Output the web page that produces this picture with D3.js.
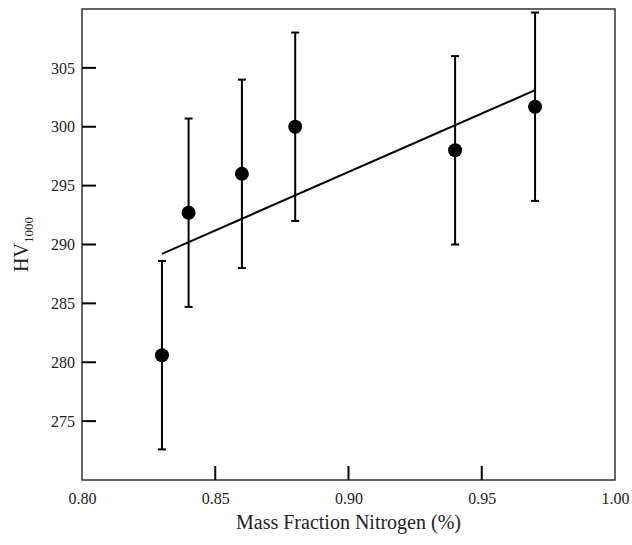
<!DOCTYPE html>
<html>
<head>
<meta charset="utf-8">
<script src="https://cdn.jsdelivr.net/npm/d3@7"></script>
<style>
  body { margin: 0; background: #fff; }
  svg { display: block; }
  svg text { font-family: "Liberation Serif", "Times New Roman", Times, "DejaVu Serif", serif; }
</style>
</head>
<body>
<svg id="chart" width="632" height="545"></svg>
<script>
// data
const nitrogen = [0.83, 0.84, 0.86, 0.88, 0.94, 0.97];
const hardness = [280.6, 292.7, 296.0, 300.0, 298.0, 301.7];
const errors = [8, 8, 8, 8, 8, 8];
const xTicks = [0.80, 0.85, 0.90, 0.95, 1.00];
const yTicks = [275, 280, 285, 290, 295, 300, 305];

const margin = { left: 82, top: 9, right: 17, bottom: 65 };
const W = 632, H = 545;

const svg = d3.select("#chart");

const x = d3.scaleLinear().domain([0.80, 1.00]).range([margin.left, W - margin.right]);
const y = d3.scaleLinear().domain([270, 310]).range([H - margin.bottom, margin.top]);

// frame
svg.append("rect")
    .attr("x", x(0.80)).attr("y", y(310))
    .attr("width", x(1.00) - x(0.80)).attr("height", y(270) - y(310))
    .attr("fill", "none").attr("stroke", "#333").attr("stroke-width", 1.5);

// x axis (ticks inward)
const xAxis = svg.append("g")
    .attr("transform", `translate(0,${y(270)})`)
    .call(d3.axisBottom(x).tickValues(xTicks).tickSize(0).tickPadding(13).tickFormat(d3.format(".2f")));
xAxis.attr("font-family", null);
xAxis.select(".domain").remove();
xAxis.selectAll("text").attr("font-size", 16).attr("fill", "#222");
svg.append("g").selectAll("line")
    .data(xTicks.slice(1, -1))
    .join("line")
    .attr("x1", d => x(d)).attr("x2", d => x(d))
    .attr("y1", y(270)).attr("y2", y(270) - 14)
    .attr("stroke", "#000").attr("stroke-width", 2);

// y axis
const yAxis = svg.append("g")
    .attr("transform", `translate(${x(0.80)},0)`)
    .call(d3.axisLeft(y).tickValues(yTicks).tickSize(0).tickPadding(7));
yAxis.attr("font-family", null);
yAxis.select(".domain").remove();
yAxis.selectAll("text").attr("font-size", 16).attr("fill", "#222");
svg.append("g").selectAll("line")
    .data(yTicks)
    .join("line")
    .attr("x1", x(0.80)).attr("x2", x(0.80) + 14)
    .attr("y1", d => y(d)).attr("y2", d => y(d))
    .attr("stroke", "#000").attr("stroke-width", 2);

// axis titles
svg.append("text")
    .attr("x", (x(0.80) + x(1.00)) / 2).attr("y", 529)
    .attr("text-anchor", "middle").attr("font-size", 20).attr("fill", "#222")
    .text("Mass Fraction Nitrogen (%)");

const yl = svg.append("text")
    .attr("transform", `translate(28,${(y(270) + y(310)) / 2}) rotate(-90)`)
    .attr("text-anchor", "middle").attr("font-size", 20).attr("fill", "#222");
yl.append("tspan").text("HV");
yl.append("tspan").attr("font-size", 13).attr("dy", 5).text("1000");

// linear fit
const mx = d3.mean(nitrogen), my = d3.mean(hardness);
const slope = d3.sum(nitrogen, (d, i) => (d - mx) * (hardness[i] - my)) /
              d3.sum(nitrogen, d => (d - mx) * (d - mx));
const fitX = d3.extent(nitrogen);
svg.append("line")
    .attr("x1", x(fitX[0])).attr("y1", y(my + slope * (fitX[0] - mx)))
    .attr("x2", x(fitX[1])).attr("y2", y(my + slope * (fitX[1] - mx)))
    .attr("stroke", "#000").attr("stroke-width", 2);

const pts = nitrogen.map((d, i) => ({ x: d, y: hardness[i], e: errors[i] }));

// error bars
const eb = svg.append("g").selectAll("g").data(pts).join("g");
eb.append("line")
    .attr("x1", d => x(d.x)).attr("x2", d => x(d.x))
    .attr("y1", d => y(d.y - d.e)).attr("y2", d => y(d.y + d.e))
    .attr("stroke", "#000").attr("stroke-width", 2);
eb.append("line")
    .attr("x1", d => x(d.x) - 4).attr("x2", d => x(d.x) + 4)
    .attr("y1", d => y(d.y + d.e)).attr("y2", d => y(d.y + d.e))
    .attr("stroke", "#000").attr("stroke-width", 2);
eb.append("line")
    .attr("x1", d => x(d.x) - 4).attr("x2", d => x(d.x) + 4)
    .attr("y1", d => y(d.y - d.e)).attr("y2", d => y(d.y - d.e))
    .attr("stroke", "#000").attr("stroke-width", 2);

// points
svg.append("g").selectAll("circle")
    .data(pts)
    .join("circle")
    .attr("cx", d => x(d.x)).attr("cy", d => y(d.y))
    .attr("r", 7).attr("fill", "#000");
</script>
</body>
</html>
